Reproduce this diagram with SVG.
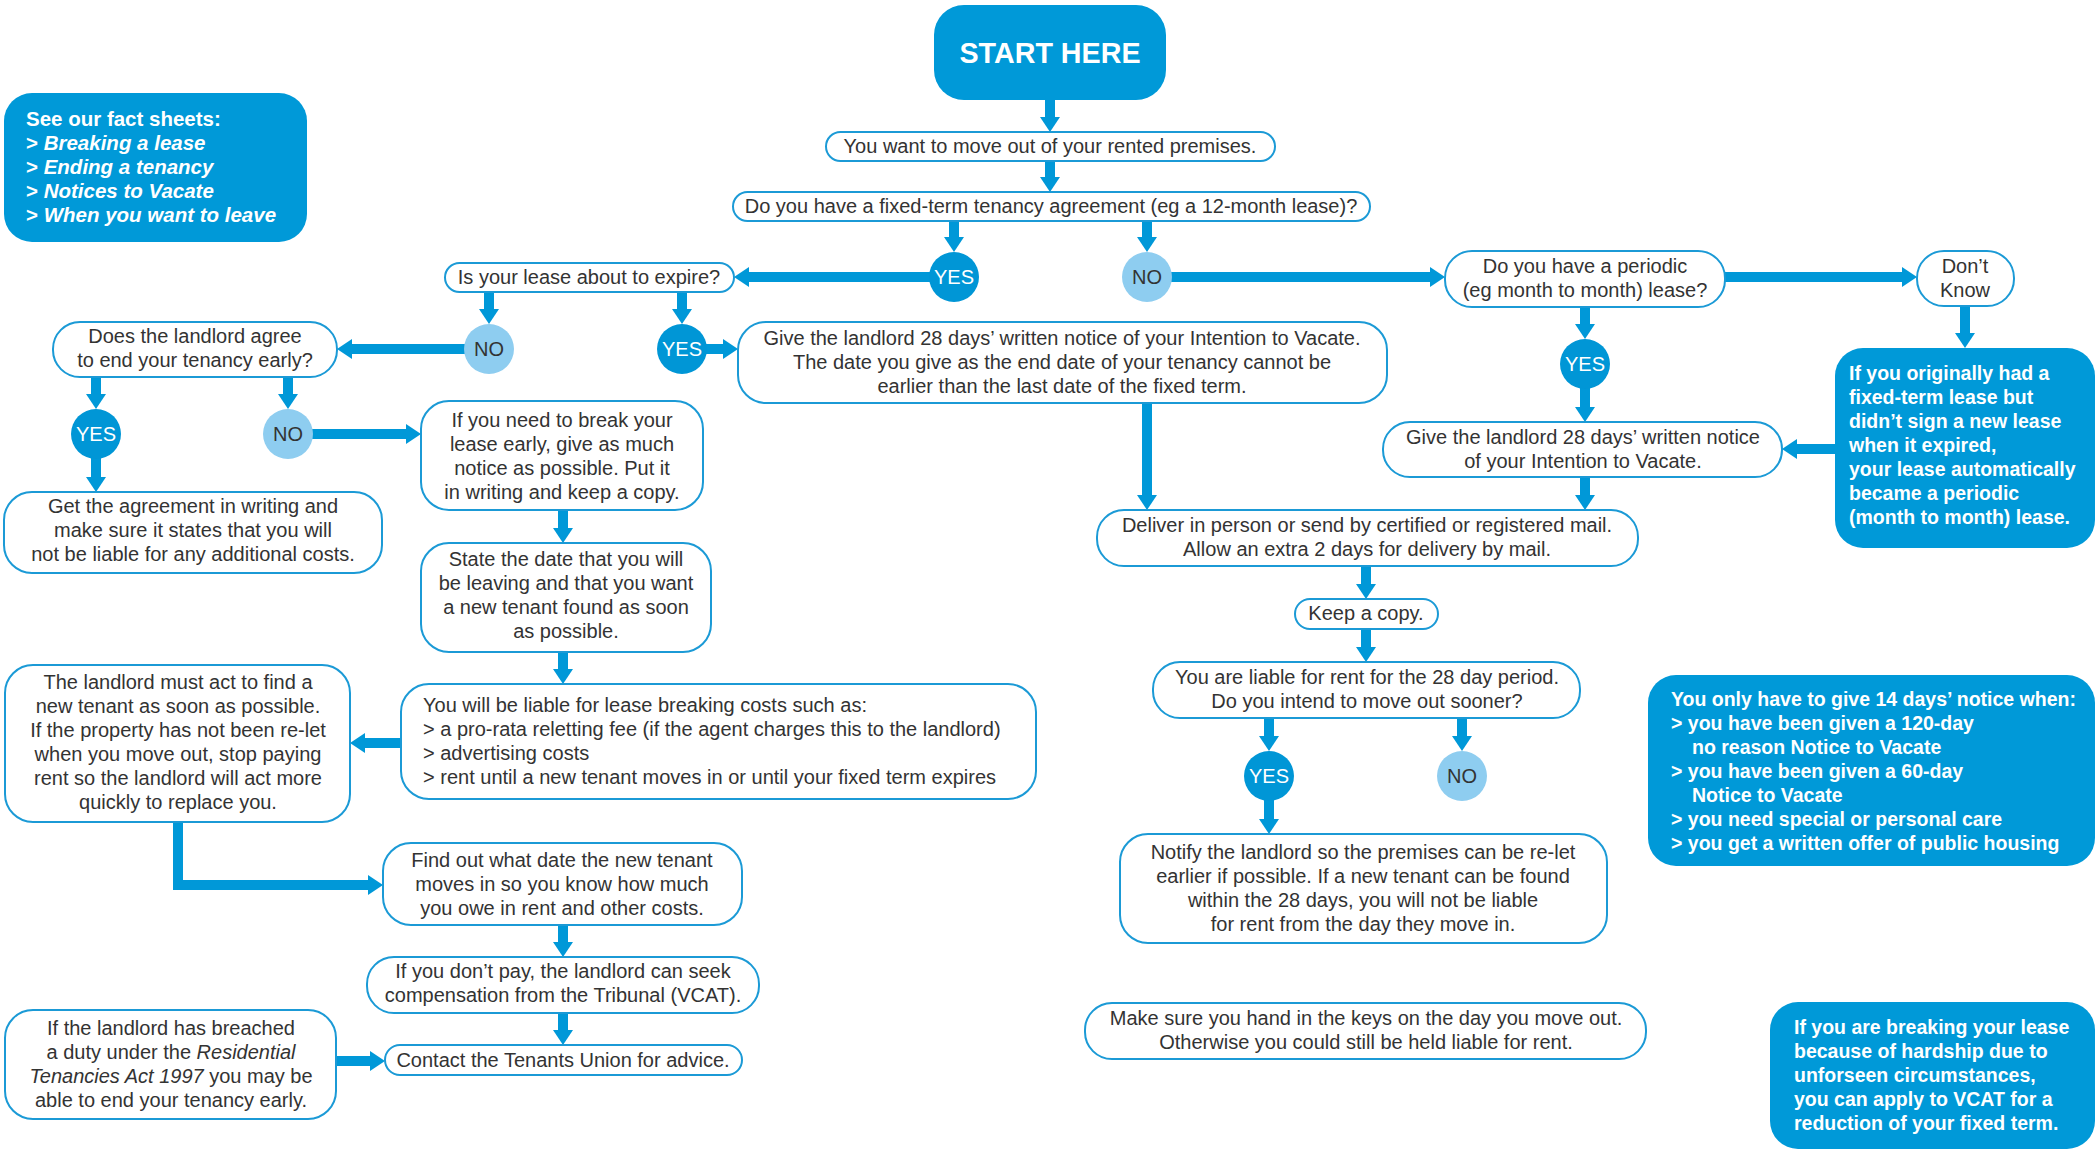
<svg xmlns="http://www.w3.org/2000/svg" width="2099" height="1149" viewBox="0 0 2099 1149">
<style>
.box{fill:#fff;stroke:#1b9ad6;stroke-width:2}
.blue{fill:#0099d8}
.yes{fill:#0096d6}
.no{fill:#8ecdf0}
.t{font-family:"Liberation Sans",Arial,sans-serif;font-size:20px;fill:#333}
.c{text-anchor:middle}
.w{fill:#fff;font-weight:bold;font-size:19.5px}
.fs{font-size:20.5px}
.i{font-style:italic}
.conn{stroke:#0098d8;stroke-width:10;fill:none;marker-end:url(#ah)}
</style>
<defs>
<marker id="ah" markerUnits="userSpaceOnUse" viewBox="0 0 15 20" markerWidth="15" markerHeight="20" refX="1" refY="10" orient="auto">
<path d="M0,0 L15,10 L0,20 Z" fill="#0098d8"/>
</marker>
</defs>
<rect width="2099" height="1149" fill="#fff"/>
<g id="connectors">
<path class="conn" d="M1050,100 V118"/>
<path class="conn" d="M1050,161 V178"/>
<path class="conn" d="M954,221 V238"/>
<path class="conn" d="M1147,221 V238"/>
<path class="conn" d="M954,277 H748"/>
<path class="conn" d="M1147,277 H1431"/>
<path class="conn" d="M1725,277 H1903"/>
<path class="conn" d="M1965,306 V334"/>
<path class="conn" d="M1835,449 H1796"/>
<path class="conn" d="M1585,307 V325"/>
<path class="conn" d="M1585,364 V408"/>
<path class="conn" d="M1585,477 V496"/>
<path class="conn" d="M1147,403 V496"/>
<path class="conn" d="M489,292 V310"/>
<path class="conn" d="M682,292 V310"/>
<path class="conn" d="M682,349 H724"/>
<path class="conn" d="M489,349 H351"/>
<path class="conn" d="M96,377 V395"/>
<path class="conn" d="M288,377 V395"/>
<path class="conn" d="M96,434 V478"/>
<path class="conn" d="M288,434 H407"/>
<path class="conn" d="M563,510 V529"/>
<path class="conn" d="M563,652 V670"/>
<path class="conn" d="M401,743 H364"/>
<path class="conn" d="M178,822 V885 H369"/>
<path class="conn" d="M563,925 V943"/>
<path class="conn" d="M563,1013 V1031"/>
<path class="conn" d="M336,1061 H371"/>
<path class="conn" d="M1366,566 V585"/>
<path class="conn" d="M1366,629 V648"/>
<path class="conn" d="M1269,718 V737"/>
<path class="conn" d="M1462,718 V737"/>
<path class="conn" d="M1269,776 V820"/>
</g>

<g id="factsheets">
<rect class="blue" x="4" y="93" width="303" height="149" rx="28"/>
<text class="t w fs" x="26" y="126">See our fact sheets:</text>
<text class="t w fs" x="26" y="150">&gt; <tspan class="i">Breaking a lease</tspan></text>
<text class="t w fs" x="26" y="174">&gt; <tspan class="i">Ending a tenancy</tspan></text>
<text class="t w fs" x="26" y="198">&gt; <tspan class="i">Notices to Vacate</tspan></text>
<text class="t w fs" x="26" y="222">&gt; <tspan class="i">When you want to leave</tspan></text>
</g>

<g id="start">
<rect class="blue" x="934" y="5" width="232" height="95" rx="30"/>
<text class="t c" x="1050" y="63" style="font-size:30px;font-weight:bold;fill:#fff" textLength="181" lengthAdjust="spacingAndGlyphs">START HERE</text>
</g>

<g id="move">
<rect class="box" x="826" y="132" width="449" height="29" rx="14.5"/>
<text class="t c" x="1050" y="153">You want to move out of your rented premises.</text>
</g>

<g id="fixed">
<rect class="box" x="733" y="192" width="637" height="29" rx="14.5"/>
<text class="t c" x="1051" y="213">Do you have a fixed-term tenancy agreement (eg a 12-month lease)?</text>
</g>

<g id="yes1">
<circle class="yes" cx="954" cy="277" r="25"/>
<text class="t c" x="954" y="284" style="fill:#fff">YES</text>
</g>
<g id="no1">
<circle class="no" cx="1147" cy="277" r="25"/>
<text class="t c" x="1147" y="284">NO</text>
</g>

<g id="expire">
<rect class="box" x="445" y="263" width="289" height="29" rx="14.5"/>
<text class="t c" x="589" y="284">Is your lease about to expire?</text>
</g>

<g id="no2">
<circle class="no" cx="489" cy="349" r="25"/>
<text class="t c" x="489" y="356">NO</text>
</g>
<g id="yes2">
<circle class="yes" cx="682" cy="349" r="25"/>
<text class="t c" x="682" y="356" style="fill:#fff">YES</text>
</g>

<g id="give1">
<rect class="box" x="738" y="322" width="649" height="81" rx="28"/>
<text class="t c" x="1062" y="345">Give the landlord 28 days’ written notice of your Intention to Vacate.</text>
<text class="t c" x="1062" y="369">The date you give as the end date of your tenancy cannot be</text>
<text class="t c" x="1062" y="393">earlier than the last date of the fixed term.</text>
</g>

<g id="agree">
<rect class="box" x="53" y="322" width="284" height="55" rx="27"/>
<text class="t c" x="195" y="343">Does the landlord agree</text>
<text class="t c" x="195" y="367">to end your tenancy early?</text>
</g>

<g id="yes3">
<circle class="yes" cx="96" cy="434" r="25"/>
<text class="t c" x="96" y="441" style="fill:#fff">YES</text>
</g>
<g id="no3">
<circle class="no" cx="288" cy="434" r="25"/>
<text class="t c" x="288" y="441">NO</text>
</g>

<g id="getagreement">
<rect class="box" x="4" y="492" width="378" height="81" rx="28"/>
<text class="t c" x="193" y="513">Get the agreement in writing and</text>
<text class="t c" x="193" y="537">make sure it states that you will</text>
<text class="t c" x="193" y="561">not be liable for any additional costs.</text>
</g>

<g id="breakearly">
<rect class="box" x="421" y="401" width="282" height="109" rx="28"/>
<text class="t c" x="562" y="427">If you need to break your</text>
<text class="t c" x="562" y="451">lease early, give as much</text>
<text class="t c" x="562" y="475">notice as possible. Put it</text>
<text class="t c" x="562" y="499">in writing and keep a copy.</text>
</g>

<g id="statedate">
<rect class="box" x="421" y="543" width="290" height="109" rx="28"/>
<text class="t c" x="566" y="566">State the date that you will</text>
<text class="t c" x="566" y="590">be leaving and that you want</text>
<text class="t c" x="566" y="614">a new tenant found as soon</text>
<text class="t c" x="566" y="638">as possible.</text>
</g>

<g id="liable">
<rect class="box" x="401" y="684" width="635" height="115" rx="28"/>
<text class="t" x="423" y="712">You will be liable for lease breaking costs such as:</text>
<text class="t" x="423" y="736">&gt; a pro-rata reletting fee (if the agent charges this to the landlord)</text>
<text class="t" x="423" y="760">&gt; advertising costs</text>
<text class="t" x="423" y="784">&gt; rent until a new tenant moves in or until your fixed term expires</text>
</g>

<g id="landlordact">
<rect class="box" x="5" y="665" width="345" height="157" rx="28"/>
<text class="t c" x="178" y="689">The landlord must act to find a</text>
<text class="t c" x="178" y="713">new tenant as soon as possible.</text>
<text class="t c" x="178" y="737">If the property has not been re-let</text>
<text class="t c" x="178" y="761">when you move out, stop paying</text>
<text class="t c" x="178" y="785">rent so the landlord will act more</text>
<text class="t c" x="178" y="809">quickly to replace you.</text>
</g>

<g id="findout">
<rect class="box" x="383" y="843" width="359" height="82" rx="28"/>
<text class="t c" x="562" y="867">Find out what date the new tenant</text>
<text class="t c" x="562" y="891">moves in so you know how much</text>
<text class="t c" x="562" y="915">you owe in rent and other costs.</text>
</g>

<g id="dontpay">
<rect class="box" x="367" y="957" width="392" height="56" rx="27"/>
<text class="t c" x="563" y="978">If you don’t pay, the landlord can seek</text>
<text class="t c" x="563" y="1002">compensation from the Tribunal (VCAT).</text>
</g>

<g id="contact">
<rect class="box" x="385" y="1045" width="357" height="30" rx="15"/>
<text class="t c" x="563" y="1067">Contact the Tenants Union for advice.</text>
</g>

<g id="breached">
<rect class="box" x="5" y="1010" width="331" height="109" rx="28"/>
<text class="t c" x="171" y="1035">If the landlord has breached</text>
<text class="t c" x="171" y="1059">a duty under the <tspan class="i">Residential</tspan></text>
<text class="t c" x="171" y="1083"><tspan class="i">Tenancies Act 1997</tspan> you may be</text>
<text class="t c" x="171" y="1107">able to end your tenancy early.</text>
</g>

<g id="periodic">
<rect class="box" x="1445" y="251" width="280" height="56" rx="27"/>
<text class="t c" x="1585" y="273">Do you have a periodic</text>
<text class="t c" x="1585" y="297">(eg month to month) lease?</text>
</g>

<g id="dontknow">
<rect class="box" x="1917" y="251" width="97" height="55" rx="27"/>
<text class="t c" x="1965" y="273">Don’t</text>
<text class="t c" x="1965" y="297">Know</text>
</g>

<g id="yes4">
<circle class="yes" cx="1585" cy="364" r="25"/>
<text class="t c" x="1585" y="371" style="fill:#fff">YES</text>
</g>

<g id="hadfixed">
<rect class="blue" x="1835" y="348" width="260" height="200" rx="28"/>
<text class="t w" x="1849" y="380">If you originally had a</text>
<text class="t w" x="1849" y="404">fixed-term lease but</text>
<text class="t w" x="1849" y="428">didn’t sign a new lease</text>
<text class="t w" x="1849" y="452">when it expired,</text>
<text class="t w" x="1849" y="476">your lease automatically</text>
<text class="t w" x="1849" y="500">became a periodic</text>
<text class="t w" x="1849" y="524">(month to month) lease.</text>
</g>

<g id="give2">
<rect class="box" x="1383" y="422" width="399" height="55" rx="27"/>
<text class="t c" x="1583" y="444">Give the landlord 28 days’ written notice</text>
<text class="t c" x="1583" y="468">of your Intention to Vacate.</text>
</g>

<g id="deliver">
<rect class="box" x="1097" y="510" width="541" height="56" rx="27"/>
<text class="t c" x="1367" y="532">Deliver in person or send by certified or registered mail.</text>
<text class="t c" x="1367" y="556">Allow an extra 2 days for delivery by mail.</text>
</g>

<g id="keepcopy">
<rect class="box" x="1295" y="599" width="143" height="30" rx="15"/>
<text class="t c" x="1366" y="620">Keep a copy.</text>
</g>

<g id="liable28">
<rect class="box" x="1153" y="662" width="427" height="56" rx="27"/>
<text class="t c" x="1367" y="684">You are liable for rent for the 28 day period.</text>
<text class="t c" x="1367" y="708">Do you intend to move out sooner?</text>
</g>

<g id="yes5">
<circle class="yes" cx="1269" cy="776" r="25"/>
<text class="t c" x="1269" y="783" style="fill:#fff">YES</text>
</g>
<g id="no5">
<circle class="no" cx="1462" cy="776" r="25"/>
<text class="t c" x="1462" y="783">NO</text>
</g>

<g id="notify">
<rect class="box" x="1120" y="834" width="487" height="109" rx="28"/>
<text class="t c" x="1363" y="859">Notify the landlord so the premises can be re-let</text>
<text class="t c" x="1363" y="883">earlier if possible. If a new tenant can be found</text>
<text class="t c" x="1363" y="907">within the 28 days, you will not be liable</text>
<text class="t c" x="1363" y="931">for rent from the day they move in.</text>
</g>

<g id="keys">
<rect class="box" x="1085" y="1003" width="561" height="56" rx="27"/>
<text class="t c" x="1366" y="1025">Make sure you hand in the keys on the day you move out.</text>
<text class="t c" x="1366" y="1049">Otherwise you could still be held liable for rent.</text>
</g>

<g id="fourteen">
<rect class="blue" x="1648" y="675" width="447" height="191" rx="28"/>
<text class="t w" x="1671" y="706">You only have to give 14 days’ notice when:</text>
<text class="t w" x="1671" y="730">&gt; you have been given a 120-day</text>
<text class="t w" x="1692" y="754">no reason Notice to Vacate</text>
<text class="t w" x="1671" y="778">&gt; you have been given a 60-day</text>
<text class="t w" x="1692" y="802">Notice to Vacate</text>
<text class="t w" x="1671" y="826">&gt; you need special or personal care</text>
<text class="t w" x="1671" y="850">&gt; you get a written offer of public housing</text>
</g>

<g id="hardship">
<rect class="blue" x="1770" y="1002" width="325" height="147" rx="28"/>
<text class="t w" x="1794" y="1034">If you are breaking your lease</text>
<text class="t w" x="1794" y="1058">because of hardship due to</text>
<text class="t w" x="1794" y="1082">unforseen circumstances,</text>
<text class="t w" x="1794" y="1106">you can apply to VCAT for a</text>
<text class="t w" x="1794" y="1130">reduction of your fixed term.</text>
</g>
</svg>
